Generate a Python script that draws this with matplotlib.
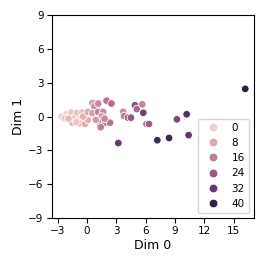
import numpy as np
import matplotlib
matplotlib.use('Agg')
import matplotlib.pyplot as plt
import seaborn as sns
import pandas as pd

# embedding coordinates and hue value per point
dim0 = [-2.6, -2.1, -1.6, -1.05, -0.5, -1.4, -1.5, -0.7, -0.8, -0.2, -2.3, -1.9, 0.1, -0.4, 0.1, -1.1,
        0.55, 0.75, 1.15, 0.55, 1.15, 1.65, 1.5, 1.35, 1.85, 2.35, 1.4, 2.0, 2.5, 0.9, 1.8,
        3.7, 3.8, 4.2, 4.5, 4.9, 5.1, 5.66, 5.76, 6.1, 6.35, 3.2,
        7.2, 8.4, 9.2, 10.2, 10.4, 16.2]
dim1 = [0.0, 0.2, 0.35, 0.3, 0.35, -0.2, -0.55, -0.2, -0.6, -0.65, -0.15, -0.2, -0.3, 0.0, 0.4, -0.5,
        1.2, 0.9, 1.15, 0.3, 0.4, 0.4, 0.0, -0.55, -0.55, -0.55, -0.95, 1.4, 1.15, -0.3, -0.2,
        0.42, 0.04, -0.1, -0.1, 1.0, 0.66, 1.08, 0.33, -0.66, -0.66, -2.35,
        -2.1, -1.9, -0.25, 0.2, -1.65, 2.45]
hue = [0, 1, 2, 3, 4, 2, 5, 3, 6, 7, 1, 4, 6, 5, 8, 2,
       10, 12, 14, 9, 16, 13, 11, 15, 17, 18, 16, 18, 19, 10, 14,
       12, 16, 22, 24, 26, 20, 14, 30, 21, 23, 32,
       38, 38, 28, 35, 33, 41]

df = pd.DataFrame({'Dim 0': dim0, 'Dim 1': dim1, 'hue': hue})

plt.rcParams['font.size'] = 7.5
fig = plt.figure(figsize=(2.66, 2.66), dpi=100)
ax = fig.add_axes([0.195, 0.18, 0.76, 0.764])

sns.scatterplot(data=df, x='Dim 0', y='Dim 1', hue='hue', s=30, linewidth=0.6, ax=ax)

ax.set_ylim(-9, 9)
ax.set_yticks(np.arange(-9, 10, 3))
ax.set_xticks(np.arange(-3, 16, 3))
ax.set_xlim(-3.6, 17.1)
ax.tick_params(labelsize=7.5, pad=2.5)
ax.set_xlabel('Dim 0', fontsize=9, labelpad=2)
ax.set_ylabel('Dim 1', fontsize=9, labelpad=2)
ax.legend(loc='lower right', fontsize=7.5, title=None, markerscale=1.15)

fig.savefig('out.png', dpi=100)
